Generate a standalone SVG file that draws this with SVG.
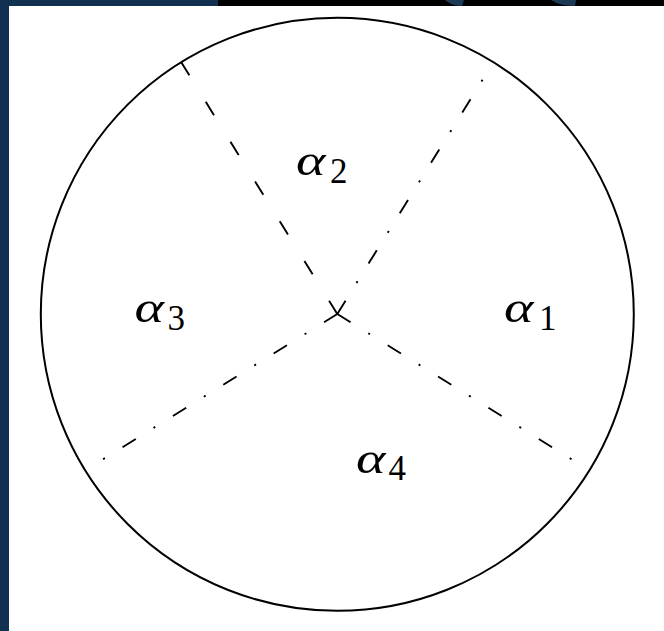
<svg xmlns="http://www.w3.org/2000/svg" width="664" height="631" viewBox="0 0 664 631">
<style>
.ln{fill:none;stroke:#000;stroke-width:1.9;stroke-linecap:butt}
.dash{stroke-dasharray:15.6 31.2}
.dd{stroke-dasharray:15.6 20.8 2.08 20.8}
.a{font-family:"Liberation Serif","DejaVu Serif",serif;font-style:italic;font-size:45px;fill:#000}
.s{font-family:"Liberation Serif","DejaVu Serif",serif;font-size:35px;fill:#000}
</style>
<rect x="0" y="0" width="664" height="631" fill="#ffffff"/>
<g id="frame">
<rect x="0" y="0" width="9" height="631" fill="#12304f"/>
<rect x="0" y="0" width="218" height="6" fill="#12304f"/>
<rect x="218" y="0" width="446" height="6" fill="#000"/>
<path d="M445 0 Q452 6 462 6 L464 0 Z" fill="#1d3a55"/>
<path d="M551 0 Q560 6 575 6 L576 0 Z" fill="#1d3a55"/>
</g>
<g id="circle">
<circle cx="337.3" cy="314.3" r="296.5" fill="none" stroke="#000" stroke-width="2"/>
</g>
<g id="connectors">
<line class="ln dash" x1="337.3" y1="314" x2="181.1" y2="62.1"/>
<line class="ln dd" x1="337.3" y1="314" x2="483.3" y2="78.6"/>
<line class="ln dd" x1="337.3" y1="314" x2="572.7" y2="460"/>
<line class="ln dd" x1="337.3" y1="314" x2="101.9" y2="460"/>
</g>
<g id="label-a1"><text class="a" transform="translate(504 321.7) scale(1.25 1)">α</text><text class="s" x="539" y="330">1</text></g>
<g id="label-a2"><text class="a" transform="translate(296 175) scale(1.25 1)">α</text><text class="s" x="330" y="182.7">2</text></g>
<g id="label-a3"><text class="a" transform="translate(134.5 321.7) scale(1.25 1)">α</text><text class="s" x="167.5" y="330">3</text></g>
<g id="label-a4"><text class="a" transform="translate(356 473.3) scale(1.25 1)">α</text><text class="s" x="388.5" y="479.5">4</text></g>
</svg>
